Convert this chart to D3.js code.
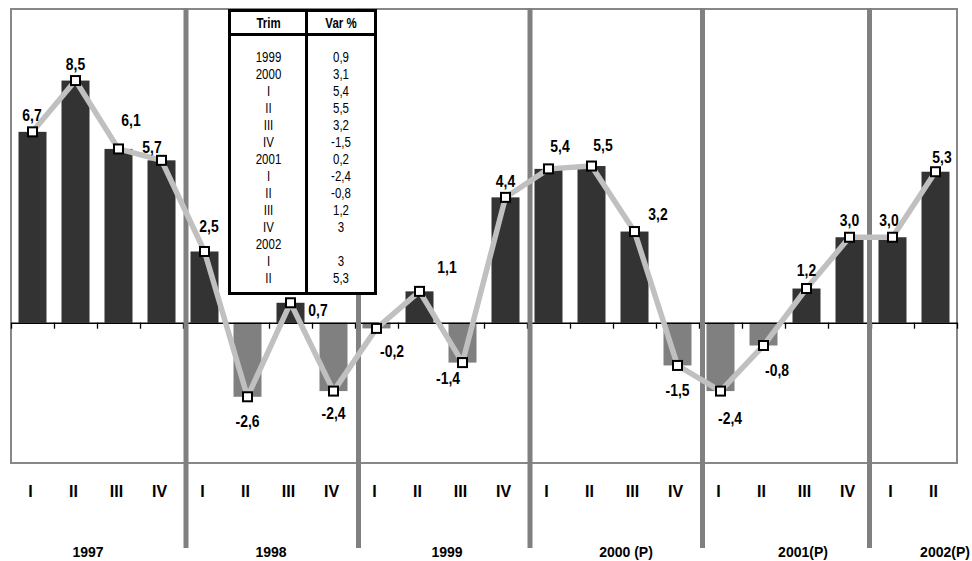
<!DOCTYPE html>
<html>
<head>
<meta charset="utf-8">
<script src="https://cdn.jsdelivr.net/npm/d3@7"></script>
<style>
  html, body { margin: 0; padding: 0; background: #fff; }
  svg { display: block; }
  text { font-family: "Liberation Sans", Arial, sans-serif; }
</style>
</head>
<body>
<svg id="chart" width="972" height="561"></svg>
<script>
// ---- data ----
const quarters = ["I","II","III","IV","I","II","III","IV","I","II","III","IV",
                  "I","II","III","IV","I","II","III","IV","I","II"];
const years = ["1997","1998","1999","2000 (P)","2001(P)","2002(P)"];
const quartersPerYear = [4, 4, 4, 4, 4, 2];
const values = [6.7, 8.5, 6.1, 5.7, 2.5, -2.6, 0.7, -2.4, -0.2, 1.1, -1.4, 4.4,
                5.4, 5.5, 3.2, -1.5, -2.4, -0.8, 1.2, 3.0, 3.0, 5.3];
const tableHeader = ["Trim", "Var %"];
const tableTrim = ["1999","2000","I","II","III","IV","2001","I","II","III","IV","2002","I","II"];
const tableVar  = ["0,9","3,1","5,4","5,5","3,2","-1,5","0,2","-2,4","-0,8","1,2","3","","3","5,3"];

// ---- layout (not data) ----
const labelOffsets = [[-0.5,-17],[0,-16],[12.5,-28.5],[-9.5,-13],[4.5,-25],[0,24],[27.5,7.5],[0,22],
  [15.5,23],[27.5,-24],[-14.5,16],[0,-16],[11.5,-23],[11.5,-20.5],[23.5,-17],[0,25],[9.5,27],
  [13.5,25],[0,-18],[0,-17],[-3.5,-17],[6.5,-14]];
const yearLabelDx = [-9, 2, 6, 13, 18, 31];
const sepDx = [3, 3.5, 3, 3.5, -1.5];
const NARROW = 0.82;

const svg = d3.select("#chart");
const pLeft = 11, pRight = 957, pTop = 9, pBottom = 463;

const idx = d3.range(values.length);
const x = d3.scaleBand().domain(idx).range([pLeft, pRight]).paddingInner(0).paddingOuter(0);
const y = d3.scaleLinear().domain([-5, 11]).range([465.15, 9.35]);
const barW = 28;
const fmt = v => v.toFixed(1).replace(".", ",");

// plot border
svg.append("rect").attr("x", pLeft).attr("y", pTop).attr("width", pRight - pLeft).attr("height", pBottom - pTop)
  .attr("fill", "#fff").attr("stroke", "#878787").attr("stroke-width", 2);

// bars
svg.append("g").selectAll("rect").data(idx).join("rect")
  .attr("x", i => x(i) + x.bandwidth() / 2 - barW / 2)
  .attr("width", barW)
  .attr("y", i => Math.min(y(values[i]), y(0)))
  .attr("height", i => Math.abs(y(values[i]) - y(0)))
  .attr("fill", i => values[i] >= 0 ? "#333333" : "#808080");

// zero axis with ticks at band boundaries
const axis = d3.axisBottom(d3.scaleLinear().domain([0, values.length]).range([pLeft, pRight]))
  .tickValues(d3.range(0, values.length + 1)).tickSize(6).tickSizeOuter(0).tickFormat("");
const ax = svg.append("g").attr("transform", `translate(0,${y(0)})`).call(axis);
ax.select(".domain").attr("stroke", "#000").attr("stroke-width", 1.6);
ax.selectAll(".tick line").attr("stroke", "#000").attr("stroke-width", 1.3);

// year separators
let acc = 0;
const starts = quartersPerYear.map(n => { const s = acc; acc += n; return s; });
starts.slice(1).forEach((s, k) => {
  const xx = x(s) + sepDx[k];
  svg.append("line").attr("x1", xx).attr("x2", xx).attr("y1", 8).attr("y2", 548)
    .attr("stroke", "#808080").attr("stroke-width", 5);
});

// line
const line = d3.line().x(i => x(i) + x.bandwidth() / 2).y(i => y(values[i]));
svg.append("path").datum(idx).attr("d", line).attr("fill", "none")
  .attr("stroke", "#c0c0c0").attr("stroke-width", 5.5).attr("stroke-linejoin", "round");

// markers
svg.append("g").selectAll("rect").data(idx).join("rect")
  .attr("x", i => x(i) + x.bandwidth() / 2 - 4.5)
  .attr("y", i => y(values[i]) - 4.5)
  .attr("width", 9).attr("height", 9)
  .attr("fill", "#fff").attr("stroke", "#000").attr("stroke-width", 2);

// value labels (narrow: horizontally condensed)
svg.append("g").selectAll("text").data(idx).join("text")
  .attr("transform", i => `translate(${x(i) + x.bandwidth() / 2 + labelOffsets[i][0]},${y(values[i]) + labelOffsets[i][1]}) scale(0.87,1)`)
  .attr("dy", "0.36em").attr("text-anchor", "middle")
  .attr("font-size", 16).attr("font-weight", "bold").attr("fill", "#000")
  .text(i => fmt(values[i]));

// quarter labels
svg.append("g").selectAll("text").data(idx).join("text")
  .attr("x", i => x(i) + x.bandwidth() / 2 - 2)
  .attr("y", 497).attr("text-anchor", "middle")
  .attr("font-size", 16).attr("font-weight", "bold")
  .text(i => quarters[i]);

// year labels
svg.append("g").selectAll("text").data(years).join("text")
  .attr("x", (d, k) => (x(starts[k]) + x(starts[k] + quartersPerYear[k] - 1) + x.bandwidth()) / 2 + yearLabelDx[k])
  .attr("y", 557).attr("text-anchor", "middle")
  .attr("font-size", 14).attr("font-weight", "bold")
  .text(d => d);

// table
const tb = svg.append("g");
const tL = 229.5, tR = 375.5, tT = 10.5, tB = 293.5, tDiv = 306.5, tHead = 34.5;
tb.append("rect").attr("x", tL).attr("y", tT).attr("width", tR - tL).attr("height", tB - tT)
  .attr("fill", "#fff").attr("stroke", "#000").attr("stroke-width", 3);
tb.append("line").attr("x1", tL).attr("x2", tR).attr("y1", tHead).attr("y2", tHead)
  .attr("stroke", "#000").attr("stroke-width", 3);
tb.append("line").attr("x1", tDiv).attr("x2", tDiv).attr("y1", tT).attr("y2", tB)
  .attr("stroke", "#000").attr("stroke-width", 3);
const colX = [268.5, 341];
tableHeader.forEach((h, c) => {
  tb.append("text").attr("transform", `translate(${colX[c]},23) scale(${NARROW},1)`).attr("dy", "0.36em")
    .attr("text-anchor", "middle").attr("font-size", 14).attr("font-weight", "bold").text(h);
});
const rowY = d3.scaleLinear().domain([0, tableTrim.length - 1]).range([57, 278]);
tb.append("g").selectAll("text").data(tableTrim).join("text")
  .attr("transform", (d, r) => `translate(${colX[0]},${rowY(r)}) scale(${NARROW},1)`).attr("dy", "0.36em")
  .attr("text-anchor", "middle").attr("font-size", 14).text(d => d);
tb.append("g").selectAll("text").data(tableVar).join("text")
  .attr("transform", (d, r) => `translate(${colX[1]},${rowY(r)}) scale(${NARROW},1)`).attr("dy", "0.36em")
  .attr("text-anchor", "middle").attr("font-size", 14).text(d => d);
</script>
</body>
</html>
